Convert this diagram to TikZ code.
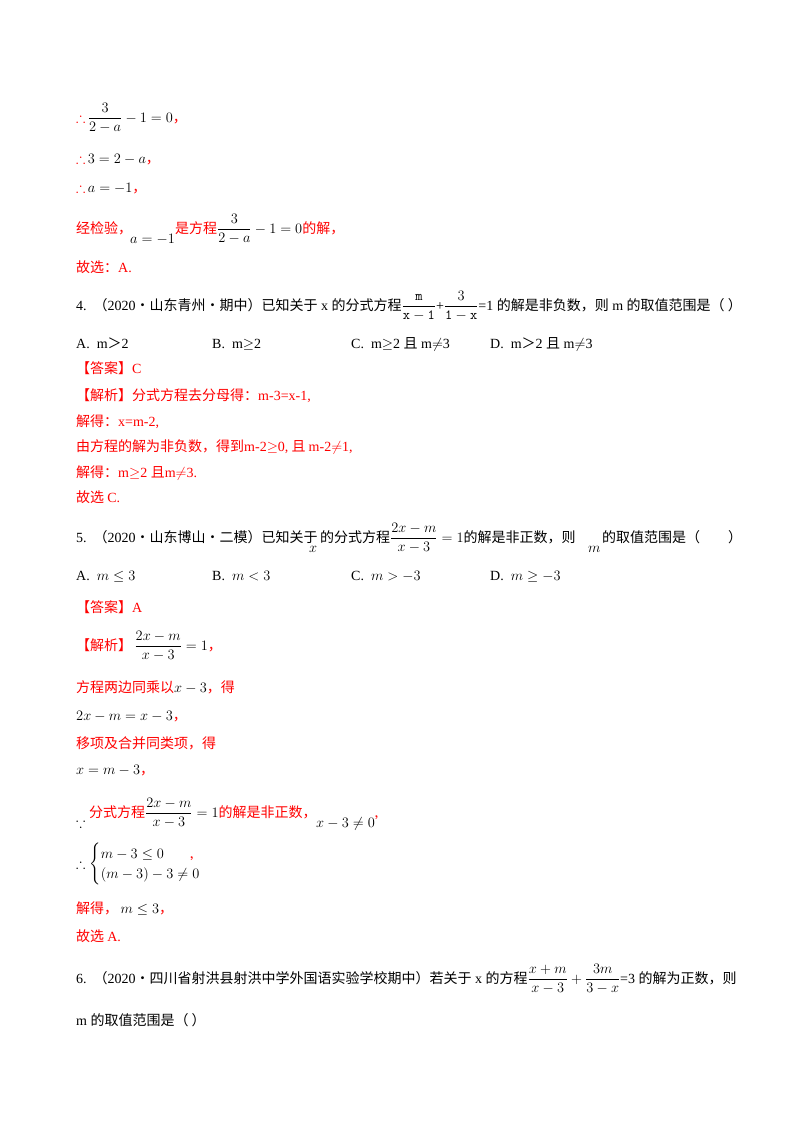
\documentclass[tikz,border=0pt]{standalone}
\usepackage{amsmath,amssymb}
\usepackage{fontspec}
\setmainfont{Liberation Serif}
\newfontfamily\cjk{Noto Sans CJK SC}
\definecolor{ans}{RGB}{255,0,0}
\newcommand{\zh}[1]{{\cjk #1}}
\newcommand{\rz}[1]{{\color{ans}\cjk #1}}
\newcommand{\rl}[1]{{\color{ans}#1}}
\begin{document}
\begin{tikzpicture}[x=1pt,y=1pt,every node/.style={anchor=base west,inner sep=0pt,font=\fontsize{14}{17}\selectfont}]
\useasboundingbox[fill=white] (0,0) rectangle (800,-1132);
\node (l1) at (76,-122) {\rl{$\therefore$}\,$\dfrac{3}{2-a}-1=0$\rz{，}};
\node (l2) at (76,-163) {\rl{$\therefore$}\,$3=2-a$\rz{，}};
\node (l3) at (76,-192) {\rl{$\therefore$}\,$a=-1$\rz{，}};
\node (l4) at (76,-233) {\rz{经检验，}};
\node (l4b) at (130,-243) {$a=-1$};
\node (l4c) at (175,-233) {\rz{是方程}$\dfrac{3}{2-a}-1=0$\rz{的解，}};
\node (l5) at (76,-272) {\rz{故选：}\rl{A.}};
\node (q4) at (76,-310) {4.\ \ \zh{（}2020\zh{·山东青州·期中）已知关于} x \zh{的分式方程}$\dfrac{\mathtt{m}}{\mathtt{x-1}}$+$\dfrac{3}{\mathtt{1-x}}$=1 \zh{的解是非负数，则} m \zh{的取值范围是（ ）}};
\node (a4) at (76,-348) {A.\ \ m\zh{＞}2};
\node (b4) at (212,-348) {B.\ \ m$\geq$2};
\node (c4) at (351,-348) {C.\ \ m$\geq$2 \zh{且} m$\neq$3};
\node (d4) at (490,-348) {D.\ \ m\zh{＞}2 \zh{且} m$\neq$3};
\node (s1) at (76,-373) {\rz{【答案】}\rl{C}};
\node (s2) at (76,-400) {\rz{【解析】分式方程去分母得：}\rl{m-3=x-1,}};
\node (s3) at (76,-426) {\rz{解得：}\rl{x=m-2,}};
\node (s4) at (76,-451) {\rz{由方程的解为非负数，得到}\rl{m-2$\geq$0,}\rz{ 且 }\rl{m-2$\neq$1,}};
\node (s5) at (76,-477) {\rz{解得：}\rl{m$\geq$2 }\rz{且}\rl{ m$\neq$3.}};
\node (s6) at (76,-502) {\rz{故选 }\rl{C.}};
\node (q5) at (76,-542) {5.\ \ \zh{（}2020\zh{·山东博山·二模）已知关于}};
\node (q5x) at (309,-552) {$x$};
\node (q5b) at (320,-542) {\zh{的分式方程}$\dfrac{2x-m}{x-3}=1$\zh{的解是非正数，则}};
\node (q5m) at (588,-552) {$m$};
\node (q5c) at (602,-542) {\zh{的取值范围是（\qquad ）}};
\node (a5) at (76,-580) {A.\ \ $m\leq 3$};
\node (b5) at (212,-580) {B.\ \ $m<3$};
\node (c5) at (351,-580) {C.\ \ $m>-3$};
\node (d5) at (490,-580) {D.\ \ $m\geq -3$};
\node (t1) at (76,-612) {\rz{【答案】}\rl{A}};
\node (t2) at (76,-650) {\rz{【解析】}\,$\dfrac{2x-m}{x-3}=1$\rz{，}};
\node (t3) at (76,-692) {\rz{方程两边同乘以}$x-3$\rz{，得}};
\node (t4) at (76,-720) {$2x-m=x-3$\rz{，}};
\node (t5) at (76,-748) {\rz{移项及合并同类项，得}};
\node (t6) at (76,-774) {$x=m-3$\rz{，}};
\node (t7) at (76,-827) {$\because$};
\node (t7b) at (89,-817) {\rz{分式方程}$\dfrac{2x-m}{x-3}=1$\rz{的解是非正数，}};
\node (t7c) at (316,-827) {$x-3\neq 0$\rz{’}};
\node (t8) at (76,-868) {$\therefore\begin{cases}m-3\leq 0\\(m-3)-3\neq 0\end{cases}$};
\node (t8b) at (190,-868) {\rz{’}};
\node (t9) at (76,-913) {\rz{解得，}\,$m\leq 3$\rz{，}};
\node (t10) at (76,-941) {\rz{故选 }\rl{A.}};
\node (q6) at (76,-983) {6.\ \ \zh{（}2020\zh{·四川省射洪县射洪中学外国语实验学校期中）若关于} x \zh{的方程}$\dfrac{x+m}{x-3}+\dfrac{3m}{3-x}$=3 \zh{的解为正数，则}};
\node (q6b) at (76,-1025) {m \zh{的取值范围是（ ）}};
\end{tikzpicture}
\end{document}
